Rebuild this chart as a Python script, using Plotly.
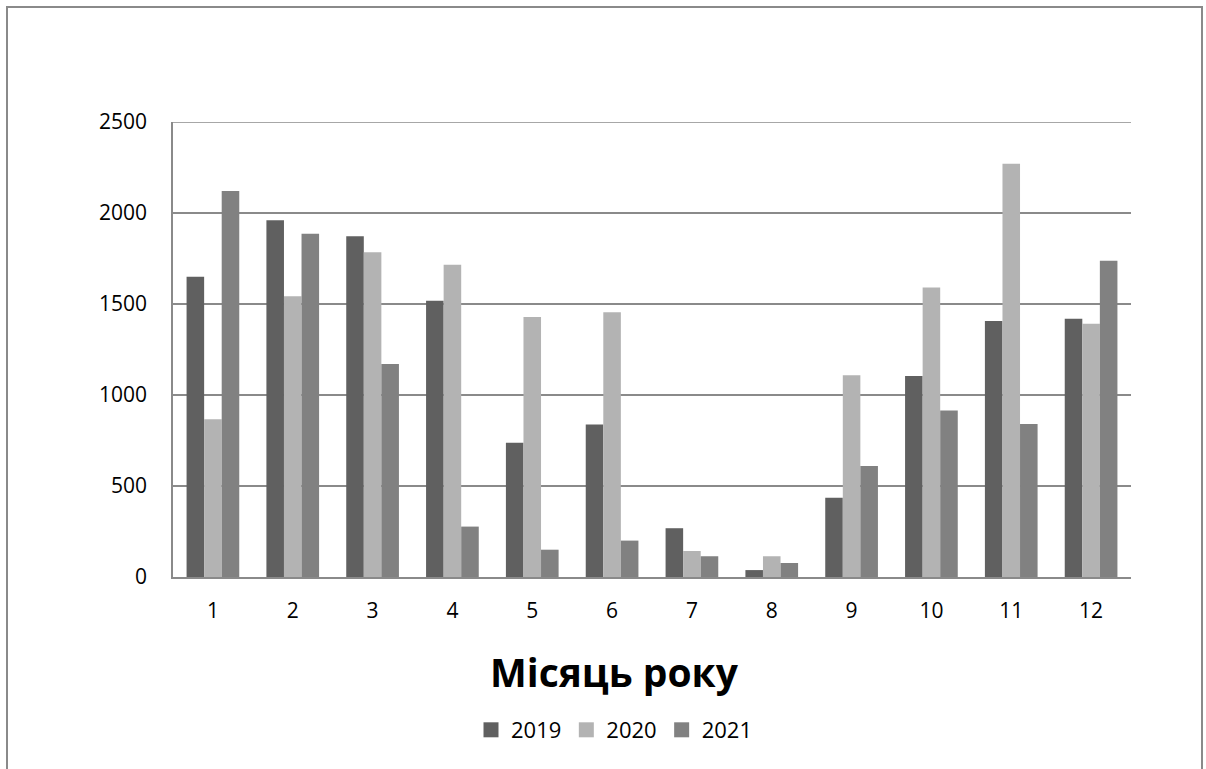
import plotly.graph_objects as go

months = ["1", "2", "3", "4", "5", "6", "7", "8", "9", "10", "11", "12"]
v2019 = [1650, 1960, 1872, 1518, 737, 838, 268, 38, 436, 1104, 1406, 1419]
v2020 = [867, 1542, 1784, 1716, 1428, 1454, 143, 114, 1109, 1591, 2271, 1391]
v2021 = [2121, 1886, 1170, 277, 150, 200, 114, 77, 610, 915, 841, 1738]
y_ticks = [0, 500, 1000, 1500, 2000, 2500]
series = [("2019", v2019, "#606060"), ("2020", v2020, "#b3b3b3"), ("2021", v2021, "#818181")]

FONT = "Open Sans"
GRID = "#8a8a8a"

fig = go.Figure()
for name, vals, col in series:
    fig.add_trace(go.Bar(x=months, y=vals, name=name, showlegend=False,
                         marker=dict(color=col, line=dict(width=0))))
# legend entries with larger square swatches
for name, vals, col in series:
    fig.add_trace(go.Scatter(x=[None], y=[None], mode="markers", name=name,
                             marker=dict(symbol="square", size=15, color=col)))

W, H = 1206, 769
L, R, T, B = 173, 1131, 122, 577
pw, ph = R - L, B - T

def px2x(px):
    return (px - L) / pw

def py2y(py):
    return (B - py) / ph

fig.update_layout(
    width=W, height=H,
    margin=dict(l=L, r=W - R, t=T, b=H - B),
    paper_bgcolor="white", plot_bgcolor="white",
    barmode="group", bargap=0.34, bargroupgap=0,
    font=dict(family=FONT, color="black", size=21),
    showlegend=True,
    legend=dict(orientation="h", x=px2x(614), xanchor="center", y=py2y(730), yanchor="middle",
                font=dict(size=22, family=FONT), itemwidth=30, traceorder="normal"),
    xaxis=dict(
        type="category", showgrid=False, showline=True, linecolor=GRID, linewidth=1.5,
        ticks="", tickfont=dict(size=21, family=FONT), ticklabelstandoff=14,
    ),
    yaxis=dict(
        range=[0, 2500], tickvals=y_ticks, showgrid=True, gridcolor=GRID, gridwidth=1.5,
        showline=True, linecolor=GRID, linewidth=1.5, ticks="", zeroline=False,
        tickfont=dict(size=21, family=FONT), ticklabelstandoff=20,
    ),
    annotations=[dict(text="<b>Місяць року</b>", xref="paper", yref="paper",
                      x=px2x(614), y=py2y(671), xanchor="center", yanchor="middle",
                      showarrow=False, font=dict(size=39, family=FONT, color="black"))],
    shapes=[
        dict(type="rect", xref="paper", yref="paper",
             x0=px2x(7), x1=px2x(1202), y0=py2y(780), y1=py2y(7),
             line=dict(color=GRID, width=2), fillcolor="rgba(0,0,0,0)", layer="below"),
        dict(type="line", xref="paper", yref="y", x0=0, x1=1, y0=y_ticks[-1], y1=y_ticks[-1],
             line=dict(color=GRID, width=1.5), layer="below"),
    ],
)

fig.write_html("out.html")
